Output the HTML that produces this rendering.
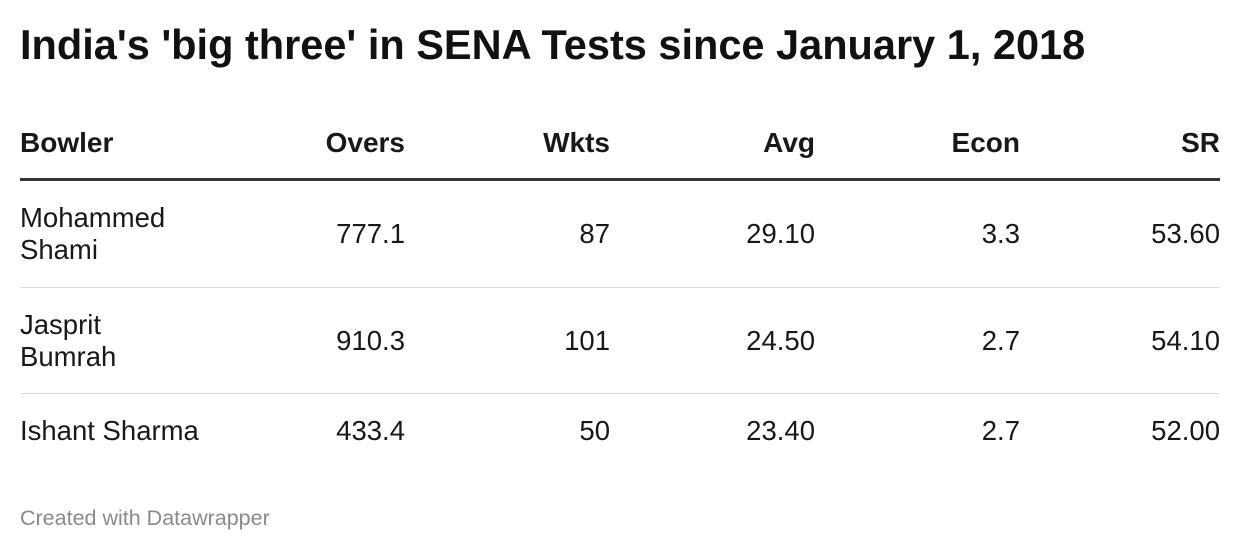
<!DOCTYPE html>
<html><head><meta charset="utf-8"><style>
body{margin:0;width:1240px;height:552px;background:#fff;font-family:"Liberation Sans",Arial,sans-serif;color:#181818;position:relative;overflow:hidden}
.a{position:absolute;white-space:nowrap}
.t{left:20px;top:21px;font-size:41.5px;font-weight:bold;color:#111}
.h{font-size:28px;font-weight:bold;top:127px;line-height:32px}
.r{font-size:27.5px;line-height:32px;text-align:right}
.l{font-size:27.5px;line-height:32px}
.line{position:absolute;left:20px;width:1200px}
</style></head><body>
<div class="a t">India's 'big three' in SENA Tests since January 1, 2018</div>
<div class="a h" style="left:20px">Bowler</div>
<div class="a h" style="right:835px">Overs</div>
<div class="a h" style="right:630px">Wkts</div>
<div class="a h" style="right:425px">Avg</div>
<div class="a h" style="right:220px">Econ</div>
<div class="a h" style="right:20px">SR</div>
<div class="line" style="top:178px;height:3px;background:#333"></div>

<div class="a l" style="left:20px;top:202px">Mohammed<br>Shami</div>
<div class="a r" style="right:835px;top:218px">777.1</div>
<div class="a r" style="right:630px;top:218px">87</div>
<div class="a r" style="right:425px;top:218px">29.10</div>
<div class="a r" style="right:220px;top:218px">3.3</div>
<div class="a r" style="right:20px;top:218px">53.60</div>
<div class="line" style="top:287px;height:1px;background:#ddd"></div>

<div class="a l" style="left:20px;top:309px">Jasprit<br>Bumrah</div>
<div class="a r" style="right:835px;top:325px">910.3</div>
<div class="a r" style="right:630px;top:325px">101</div>
<div class="a r" style="right:425px;top:325px">24.50</div>
<div class="a r" style="right:220px;top:325px">2.7</div>
<div class="a r" style="right:20px;top:325px">54.10</div>
<div class="line" style="top:393px;height:1px;background:#ddd"></div>

<div class="a l" style="left:20px;top:415px">Ishant Sharma</div>
<div class="a r" style="right:835px;top:415px">433.4</div>
<div class="a r" style="right:630px;top:415px">50</div>
<div class="a r" style="right:425px;top:415px">23.40</div>
<div class="a r" style="right:220px;top:415px">2.7</div>
<div class="a r" style="right:20px;top:415px">52.00</div>

<div class="a" style="left:20px;top:506px;font-size:21.5px;color:#8a8a8a">Created with Datawrapper</div>
</body></html>
